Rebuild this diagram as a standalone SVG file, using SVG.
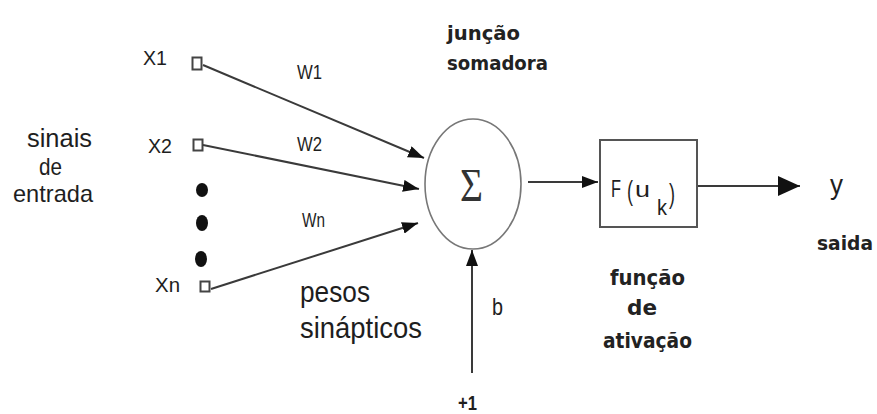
<svg xmlns="http://www.w3.org/2000/svg" width="877" height="414" viewBox="0 0 877 414">
<style>
.sans{font-family:"Liberation Sans",Arial,sans-serif;fill:#1e1e1e}
.bold{font-family:"DejaVu Sans","Liberation Sans",sans-serif;font-weight:bold;fill:#222}
.conn{stroke:#3a3a3a;stroke-width:2;fill:none}
.sq{fill:#fff;stroke:#444;stroke-width:2}
.dot{fill:#111}
</style>
<defs>
<marker id="arr" markerUnits="userSpaceOnUse" markerWidth="16" markerHeight="12" refX="16" refY="6" orient="auto">
<path d="M0,0 L16,6 L0,12 z" fill="#111"/>
</marker>
<marker id="arrBig" markerUnits="userSpaceOnUse" markerWidth="22" markerHeight="20" refX="22" refY="10" orient="auto">
<path d="M0,0 L22,10 L0,20 z" fill="#111"/>
</marker>
</defs>

<g id="labels-left">
<text class="sans" x="27" y="147" font-size="25" textLength="65" lengthAdjust="spacingAndGlyphs">sinais</text>
<text class="sans" x="39" y="175" font-size="24" textLength="23" lengthAdjust="spacingAndGlyphs">de</text>
<text class="sans" x="13" y="202" font-size="24" textLength="80" lengthAdjust="spacingAndGlyphs">entrada</text>
</g>

<g id="x1">
<text class="sans" x="143" y="65" font-size="20" textLength="24" lengthAdjust="spacingAndGlyphs">X1</text>
<rect class="sq" x="192.5" y="57.5" width="9" height="12"/>
</g>
<g id="x2">
<text class="sans" x="148" y="153" font-size="20" textLength="24" lengthAdjust="spacingAndGlyphs">X2</text>
<rect class="sq" x="193.5" y="139.5" width="9" height="11"/>
</g>
<g id="dots">
<ellipse class="dot" cx="202" cy="190" rx="6" ry="7"/>
<ellipse class="dot" cx="202" cy="223" rx="6" ry="8"/>
<ellipse class="dot" cx="201" cy="259" rx="6" ry="8"/>
</g>
<g id="xn">
<text class="sans" x="155" y="292" font-size="20" textLength="25" lengthAdjust="spacingAndGlyphs">Xn</text>
<rect class="sq" x="200.5" y="281.5" width="9" height="10"/>
</g>

<g id="weights">
<text class="sans" x="297" y="79" font-size="21" textLength="25" lengthAdjust="spacingAndGlyphs">W1</text>
<text class="sans" x="297" y="151" font-size="20" textLength="25" lengthAdjust="spacingAndGlyphs">W2</text>
<text class="sans" x="302" y="227" font-size="20" textLength="23" lengthAdjust="spacingAndGlyphs">Wn</text>
</g>

<g id="pesos">
<text class="sans" x="300" y="302" font-size="30" textLength="70" lengthAdjust="spacingAndGlyphs">pesos</text>
<text class="sans" x="300" y="338" font-size="30" textLength="122" lengthAdjust="spacingAndGlyphs">sinápticos</text>
</g>

<g id="juncao">
<text class="bold" x="447" y="40" font-size="20" textLength="73" lengthAdjust="spacingAndGlyphs">junção</text>
<text class="bold" x="447" y="70" font-size="20" textLength="101" lengthAdjust="spacingAndGlyphs">somadora</text>
</g>

<g id="soma">
<ellipse cx="473" cy="184" rx="48" ry="65" fill="none" stroke="#777" stroke-width="1.6"/>
<text x="460" y="201" font-family="Liberation Serif, serif" font-size="46" fill="#333" textLength="23" lengthAdjust="spacingAndGlyphs">Σ</text>
</g>

<g id="bias">
<text class="sans" x="492" y="315" font-size="24" textLength="11" lengthAdjust="spacingAndGlyphs">b</text>
<text class="sans" x="458" y="410" font-size="20" textLength="19" lengthAdjust="spacingAndGlyphs" font-weight="bold">+1</text>
</g>

<g id="ativacao">
<rect x="600" y="140" width="97" height="87" fill="#fff" stroke="#555" stroke-width="2"/>
<text class="sans" x="611" y="197" font-size="24" textLength="10" lengthAdjust="spacingAndGlyphs">F</text>
<text class="sans" x="627" y="200" font-size="28" textLength="6" lengthAdjust="spacingAndGlyphs">(</text>
<text class="sans" x="635" y="197" font-size="22" textLength="15" lengthAdjust="spacingAndGlyphs">u</text>
<text class="sans" x="657" y="215" font-size="22" textLength="10" lengthAdjust="spacingAndGlyphs">k</text>
<text class="sans" x="669" y="203" font-size="28" textLength="6" lengthAdjust="spacingAndGlyphs">)</text>
</g>

<g id="funcao-label">
<text class="bold" x="610" y="285" font-size="21" textLength="75" lengthAdjust="spacingAndGlyphs">função</text>
<text class="bold" x="627" y="315" font-size="21" textLength="30" lengthAdjust="spacingAndGlyphs">de</text>
<text class="bold" x="603" y="348" font-size="21" textLength="89" lengthAdjust="spacingAndGlyphs">ativação</text>
</g>

<g id="saida">
<text class="sans" x="830" y="194" font-size="28" textLength="13" lengthAdjust="spacingAndGlyphs">y</text>
<text class="bold" x="817" y="250" font-size="20" textLength="56" lengthAdjust="spacingAndGlyphs">saida</text>
</g>

<g id="connectors">
<line class="conn" x1="203" y1="65" x2="424" y2="158" marker-end="url(#arr)"/>
<line class="conn" x1="203" y1="145" x2="419" y2="189" marker-end="url(#arr)"/>
<line class="conn" x1="211" y1="289" x2="418" y2="223" marker-end="url(#arr)"/>
<line class="conn" x1="528" y1="182" x2="598" y2="182" marker-end="url(#arr)"/>
<line class="conn" x1="698" y1="186" x2="800" y2="186" marker-end="url(#arrBig)"/>
<line class="conn" x1="472" y1="373" x2="472" y2="250" marker-end="url(#arr)"/>
</g>
</svg>
